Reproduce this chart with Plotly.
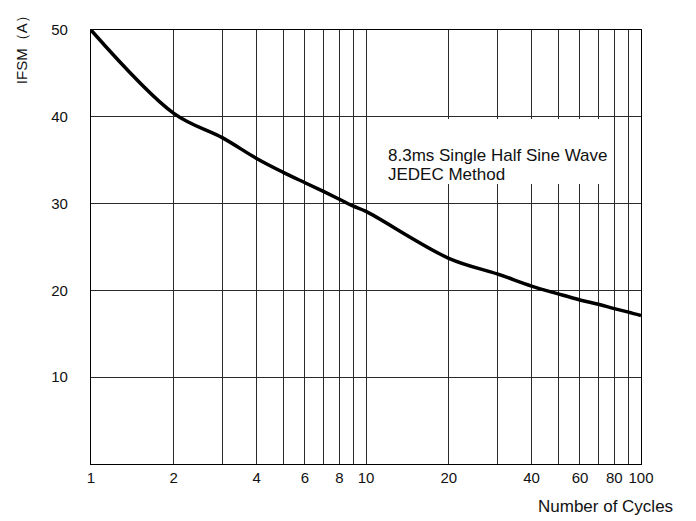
import plotly.graph_objects as go

# ---- data ----
cycles = [1, 2, 3, 4, 5, 6, 7, 8, 9, 10, 20, 30, 40, 50, 60, 70, 80, 90, 100]
ifsm = [50, 40.4, 37.6, 35.2, 33.6, 32.4, 31.4, 30.5, 29.7, 29.1,
        23.7, 21.9, 20.5, 19.6, 18.9, 18.4, 17.9, 17.5, 17.1]

x_grid_vals = [1, 2, 3, 4, 5, 6, 7, 8, 9, 10, 20, 30, 40, 50, 60, 70, 80, 90, 100]
x_tick_text = ["1", "2", "", "4", "", "6", "", "8", "", "10",
               "20", "", "40", "", "60", "", "80", "", "100"]
y_tick_vals = [10, 20, 30, 40, 50]
y_tick_text = ["10", "20", "30", "40", "50"]

note_lines = ["8.3ms Single Half Sine Wave", "JEDEC Method"]
x_title = "Number of Cycles"
y_title = "IFSM（A）"

FONT = "Liberation Sans, Arial, sans-serif"
GRID = "#2a2a2a"

fig = go.Figure()
fig.add_trace(go.Scatter(
    x=cycles, y=ifsm, mode="lines",
    line=dict(color="black", width=3.5, shape="spline", smoothing=1.0),
    hoverinfo="skip", showlegend=False,
))

fig.update_layout(
    width=688, height=513,
    margin=dict(l=83, r=55, t=22, b=57, pad=0),
    paper_bgcolor="white", plot_bgcolor="white",
    font=dict(family=FONT, size=15, color="#111"),
    showlegend=False,
    xaxis=dict(
        type="log", range=[0, 2],
        tickvals=x_grid_vals, ticktext=x_tick_text,
        showgrid=True, gridcolor=GRID, gridwidth=1,
        showline=True, linecolor="black", linewidth=1.2, mirror=True,
        ticks="", ticklabelstandoff=0,
        tickfont=dict(family=FONT, size=15, color="#111"),
        zeroline=False, fixedrange=True,
    ),
    yaxis=dict(
        range=[0, 50],
        tickvals=y_tick_vals, ticktext=y_tick_text,
        showgrid=True, gridcolor=GRID, gridwidth=1,
        showline=True, linecolor="black", linewidth=1.2, mirror=True,
        ticks="", ticklabelstandoff=19,
        tickfont=dict(family=FONT, size=15, color="#111"),
        zeroline=False, fixedrange=True,
    ),
)

# white box behind the note text (hides gridlines there)
fig.add_shape(type="rect", xref="paper", yref="paper",
              x0=0.506, x1=0.934, y0=0.645, y1=0.795,
              fillcolor="white", line=dict(width=0), layer="above")

fig.add_annotation(text=note_lines[0], xref="paper", yref="paper",
                   x=0.536, y=0.7097, xanchor="left", yanchor="middle",
                   showarrow=False, font=dict(family=FONT, size=17, color="#111"))
fig.add_annotation(text=note_lines[1], xref="paper", yref="paper",
                   x=0.536, y=0.6659, xanchor="left", yanchor="middle",
                   showarrow=False, font=dict(family=FONT, size=17, color="#111"))

fig.add_annotation(text=x_title, xref="paper", yref="paper",
                   x=0.809, y=-0.099, xanchor="left", yanchor="middle",
                   showarrow=False, font=dict(family=FONT, size=17, color="#111"))
fig.add_annotation(text=y_title, xref="paper", yref="paper",
                   x=-0.126, y=0.962, xanchor="center", yanchor="middle",
                   textangle=-90, showarrow=False, borderpad=0,
                   font=dict(family=FONT, size=15, color="#111"))

fig.write_html("out.html")
